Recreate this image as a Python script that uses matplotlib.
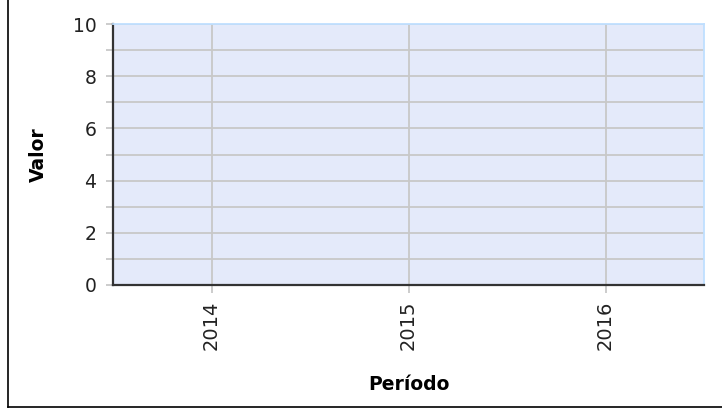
import numpy as np
import matplotlib.pyplot as plt
from matplotlib.lines import Line2D

# Data (the reference chart has no values plotted)
periodos = ['2014', '2015', '2016']
valores = [np.nan, np.nan, np.nan]
y_ticks = [0, 2, 4, 6, 8, 10]
y_minor = [1, 3, 5, 7, 9]

fig = plt.figure(figsize=(7.22, 4.09), dpi=100)
ax = fig.add_axes([113 / 722, 1 - 285 / 409, 591 / 722, 261 / 409])
ax.set_facecolor('#E4EAFA')

x = np.arange(len(periodos))
ax.plot(x, valores, marker='o')

ax.set_xlim(-0.5, len(periodos) - 0.5)
ax.set_ylim(0, 10)
ax.set_xticks(x)
ax.set_xticklabels(periodos, rotation=90, fontsize=14, color='#222222')
ax.set_yticks(y_ticks)
ax.set_yticks(y_minor, minor=True)
ax.set_yticklabels([str(v) for v in y_ticks], fontsize=13.5, color='#222222')

ax.grid(True, which='both', color='#C8C8C8', linewidth=1.3)
ax.set_axisbelow(True)
ax.tick_params(axis='y', which='both', length=5, width=1.3, color='#C8C8C8', pad=7)
ax.tick_params(axis='x', length=6, width=1.3, color='#C8C8C8', pad=5)

for side in ['top', 'right']:
    ax.spines[side].set_color('#BFDFFF')
    ax.spines[side].set_linewidth(1.3)
for side in ['left', 'bottom']:
    ax.spines[side].set_color('#333333')
    ax.spines[side].set_linewidth(1.6)

ax.set_ylabel('Valor', fontsize=13.5, fontweight='bold')
ax.set_xlabel('Período', fontsize=13.5, fontweight='bold')
ax.yaxis.set_label_coords(-65 / 591, 0.5)
ax.xaxis.set_label_coords(0.5, -(375 - 285) / 261)

# outer frame lines (left and bottom)
fig.add_artist(Line2D([7.5 / 722, 7.5 / 722], [1 - 407 / 409, 1], color='black', linewidth=1.2))
fig.add_artist(Line2D([7.5 / 722, 1], [1 - 407 / 409, 1 - 407 / 409], color='black', linewidth=1.2))

plt.savefig('out.png', dpi=100)
